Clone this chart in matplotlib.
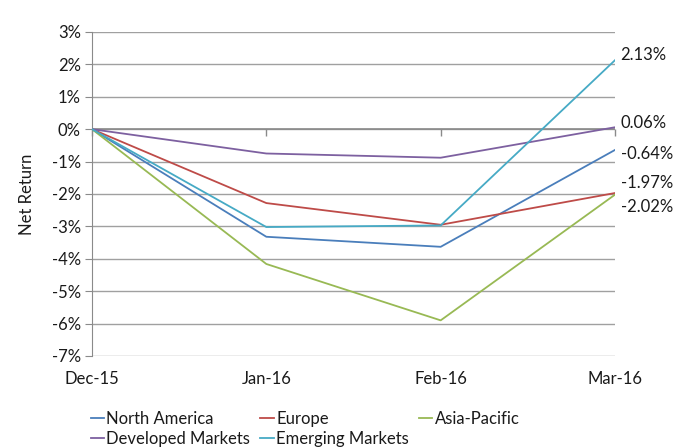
import matplotlib
matplotlib.use("Agg")
import matplotlib.pyplot as plt
from matplotlib.markers import TICKDOWN

months = ["Dec-15", "Jan-16", "Feb-16", "Mar-16"]
north_america = [0.0, -3.32, -3.63, -0.64]
europe = [0.0, -2.28, -2.95, -1.97]
asia_pacific = [0.0, -4.16, -5.90, -2.02]
developed = [0.0, -0.75, -0.88, 0.06]
emerging = [0.0, -3.02, -2.97, 2.13]
series_names = ["North America", "Europe", "Asia-Pacific", "Developed Markets", "Emerging Markets"]
yticks = list(range(-7, 4))

plt.rcParams['font.family'] = ['Lato', 'DejaVu Sans']
colors = ["#4A7EBB", "#BE4B48", "#98B954", "#7D60A0", "#46AAC5"]
series = [north_america, europe, asia_pacific, developed, emerging]
FS = 12
TC = "#1a1a1a"
AXC = "#8a8a8a"

fig = plt.figure(figsize=(6.88, 4.48), dpi=100)
ax = fig.add_axes([92/688, 1-356/448, (615-92)/688, (356-32)/448])
x = list(range(len(months)))

# horizontal axis crossing at zero, with tick marks pointing down
ax.axhline(0, color=AXC, lw=1.2, zorder=1.5)
ax.plot(x, [0]*len(x), ls="", marker=TICKDOWN, ms=5, mew=1.0, color=AXC,
        zorder=1.5, clip_on=False)

lines = []
for vals, c, name in zip(series, colors, series_names):
    ln, = ax.plot(x, vals, color=c, lw=1.3, label=name, zorder=3)
    lines.append(ln)

ax.set_xlim(0, len(months)-1)
ax.set_ylim(-7, 3)
ax.set_yticks(yticks)
ax.set_yticklabels([f"{v}%" for v in yticks], fontsize=FS, color=TC)
ax.yaxis.grid(True, color="#a0a0a0", lw=1.0)
ax.set_axisbelow(True)
for s in ["top", "right", "bottom"]:
    ax.spines[s].set_visible(False)
ax.spines["left"].set_color(AXC)
ax.tick_params(axis="y", length=5, color=AXC, pad=3)
ax.set_xticks(x)
ax.set_xticklabels(months, fontsize=FS, color=TC)
ax.tick_params(axis="x", length=0, pad=11)

ax.set_ylabel("Net Return", fontsize=FS, color=TC, labelpad=12)

dy = {0: -3, 1: 7, 2: -9, 3: 3, 4: 4}
for i, (vals, name) in enumerate(zip(series, series_names)):
    ax.annotate(f"{vals[-1]:.2f}%", xy=(x[-1], vals[-1]), xytext=(4, dy[i]),
                textcoords="offset points", ha="left", va="center",
                fontsize=FS, color=TC, annotation_clip=False)

order = [0, 3, 1, 4, 2]
leg = fig.legend(handles=[lines[i] for i in order], labels=[series_names[i] for i in order],
                 ncol=3, loc="upper left",
                 bbox_to_anchor=(84/688, 1-404/448), frameon=False, fontsize=FS,
                 handlelength=0.8, handletextpad=0.15, columnspacing=0.6,
                 labelspacing=0.25, borderaxespad=0)
for t in leg.get_texts():
    t.set_color(TC)

fig.savefig("out.png", dpi=100)
